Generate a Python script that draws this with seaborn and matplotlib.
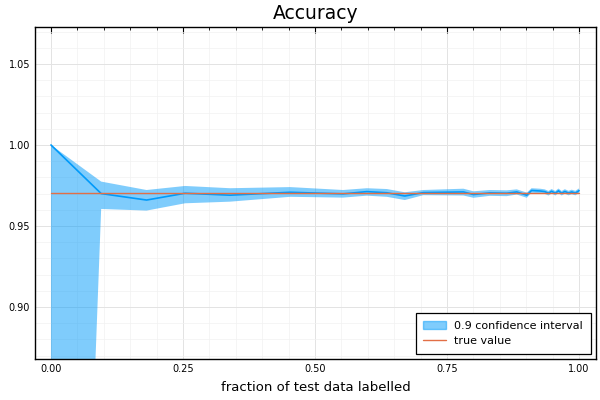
import numpy as np
import seaborn as sns
import matplotlib.pyplot as plt
from matplotlib.ticker import MultipleLocator
from matplotlib.patches import Patch
from matplotlib.lines import Line2D

# fraction of test data labelled
frac = [0.0, 0.095, 0.181, 0.254, 0.339, 0.453, 0.553, 0.598, 0.636, 0.670,
        0.705, 0.781, 0.800, 0.831, 0.863, 0.882, 0.901, 0.910, 0.926, 0.935,
        0.942, 0.948, 0.955, 0.961, 0.967, 0.973, 0.980, 0.986, 0.993, 1.0]
# estimated accuracy
mean_acc = [1.0, 0.9700, 0.9660, 0.9702, 0.9690, 0.9708, 0.9698, 0.9712, 0.9705, 0.9685,
            0.9706, 0.9710, 0.9694, 0.9704, 0.9702, 0.9710, 0.9690, 0.9719, 0.9716, 0.9712,
            0.9702, 0.9714, 0.9702, 0.9717, 0.9702, 0.9713, 0.9703, 0.9710, 0.9703, 0.9718]
# 0.9 confidence interval bounds
upper_acc = [1.0, 0.9774, 0.9722, 0.9747, 0.9733, 0.9740, 0.9722, 0.9733, 0.9728, 0.9708,
             0.9722, 0.9730, 0.9714, 0.9722, 0.9720, 0.9726, 0.9706, 0.9733, 0.9730, 0.9726,
             0.9716, 0.9728, 0.9716, 0.9731, 0.9716, 0.9727, 0.9717, 0.9724, 0.9717, 0.9732]
lower_acc = [0.139, 0.9605, 0.9595, 0.9640, 0.9650, 0.9680, 0.9675, 0.9687, 0.9680, 0.9660,
             0.9690, 0.9688, 0.9674, 0.9686, 0.9684, 0.9694, 0.9674, 0.9705, 0.9702, 0.9698,
             0.9688, 0.9700, 0.9688, 0.9703, 0.9688, 0.9699, 0.9689, 0.9696, 0.9689, 0.9704]
true_value = 0.9703

blue = '#009AFA'
orange = '#E26F46'

sns.set_style('white')
plt.rcParams['font.family'] = ['DejaVu Sans']
plt.rcParams['text.color'] = 'black'

fig = plt.figure(figsize=(6, 4), dpi=100)
ax = fig.add_axes([0.0583, 0.1025, 0.935, 0.83])

ax.fill_between(frac, lower_acc, upper_acc, color=blue, alpha=0.5, linewidth=0)
sns.lineplot(x=frac, y=mean_acc, ax=ax, color=blue, linewidth=1.2)
sns.lineplot(x=[frac[0], frac[-1]], y=[true_value, true_value], ax=ax, color=orange,
             linewidth=1.0, zorder=3)

ax.set_xlim(-0.0303, 1.032)
ax.set_ylim(0.8679, 1.0728)

ax.xaxis.set_major_locator(MultipleLocator(0.25))
ax.xaxis.set_minor_locator(MultipleLocator(0.05))
ax.yaxis.set_major_locator(MultipleLocator(0.05))
ax.yaxis.set_minor_locator(MultipleLocator(0.01))
ax.xaxis.set_major_formatter(plt.FormatStrFormatter('%.2f'))
ax.yaxis.set_major_formatter(plt.FormatStrFormatter('%.2f'))

ax.grid(which='major', color='#e3e3e3', linewidth=0.7)
ax.grid(which='minor', color='#f1f1f1', linewidth=0.5)
ax.set_axisbelow(True)

ax.tick_params(which='both', direction='in', top=True, right=False, labelsize=7,
               colors='black', labelcolor='black')
ax.tick_params(which='major', length=4, width=0.8)
ax.tick_params(which='minor', length=2.5, width=0.6)
for s in ax.spines.values():
    s.set_color('black')
    s.set_linewidth(1.0)

ax.set_title('Accuracy', fontsize=13.5, pad=5.5, color='black')
ax.set_xlabel('fraction of test data labelled', fontsize=9.5, labelpad=5, color='black')
ax.set_ylabel('')

handles = [Patch(facecolor=blue, alpha=0.5, edgecolor=blue, linewidth=1.0),
           Line2D([], [], color=orange, linewidth=1.0)]
leg = ax.legend(handles, ['0.9 confidence interval', 'true value'], loc='lower right',
                fontsize=8, fancybox=False, framealpha=1, edgecolor='black',
                borderaxespad=0.45, handlelength=2.0, handletextpad=0.8, borderpad=0.7)
leg.get_frame().set_linewidth(0.9)
for t in leg.get_texts():
    t.set_color('black')

fig.savefig('out.png', dpi=100)
